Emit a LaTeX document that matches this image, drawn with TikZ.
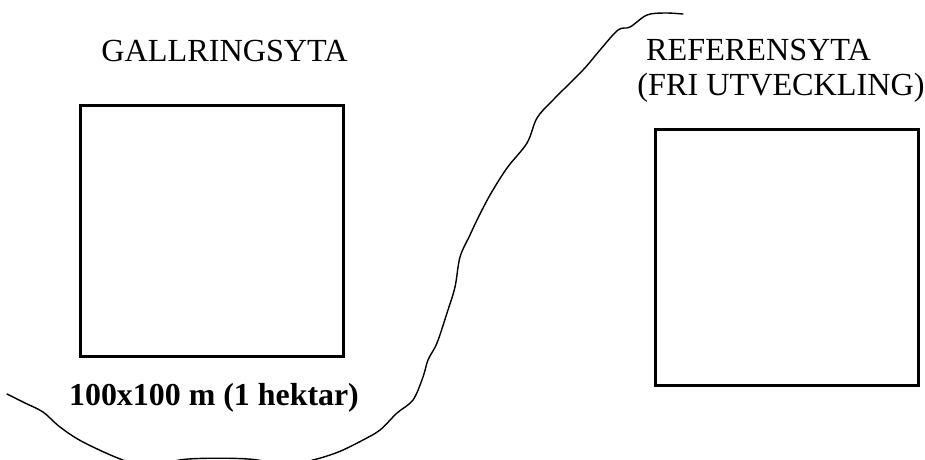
\documentclass[tikz,border=0pt]{standalone}
\usepackage{fontspec}
\setmainfont{Liberation Serif}
\begin{document}
\begin{tikzpicture}[x=1pt,y=-1pt,
  plot/.style={draw,line width=3pt,minimum width=263pt,inner sep=0pt,outer sep=0pt},
  label/.style={anchor=base,inner sep=0pt,font=\fontsize{32.2}{36}\selectfont},
  boldlabel/.style={anchor=base,inner sep=0pt,font=\fontsize{31.9}{36}\selectfont\bfseries},
  boundary/.style={line width=1.4pt,line cap=round,line join=round}]
\useasboundingbox (0,0) rectangle (925,459);
\clip (0,0) rectangle (925,459);
\node[plot,minimum height=251pt] (gall) at (211.5,231.2) {};
\node[plot,minimum height=255.7pt] (ref) at (787.2,257.8) {};
\node[label] (tgall) at (224.5,61) {GALLRINGSYTA};
\node[label] (tref) at (758.5,60) {REFERENSYTA};
\node[label] (tfri) at (781,95) {(FRI UTVECKLING)};
\node[boldlabel] (tsize) at (214,405) {100x100 m (1 hektar)};
\draw[boundary] plot[smooth,tension=0.55] coordinates {
 (7,394) (25,403) (43,412) (60,427) (83,442) (123,460) (152,466) (182,459.6)
 (218,458.2) (255,459.6) (285,466) (313,460) (330,455) (343,450) (363,440)
 (380,430) (397,413) (413,400) (423,377) (428,360) (437,343) (447,313)
 (455,287) (460,257) (470,235) (477,220) (490,195) (507,168) (527,143)
 (537,118) (553,100) (583,70) (600,50) (618,30) (630,27) (647,15) (665,13) (683,14)};
\end{tikzpicture}
\end{document}
